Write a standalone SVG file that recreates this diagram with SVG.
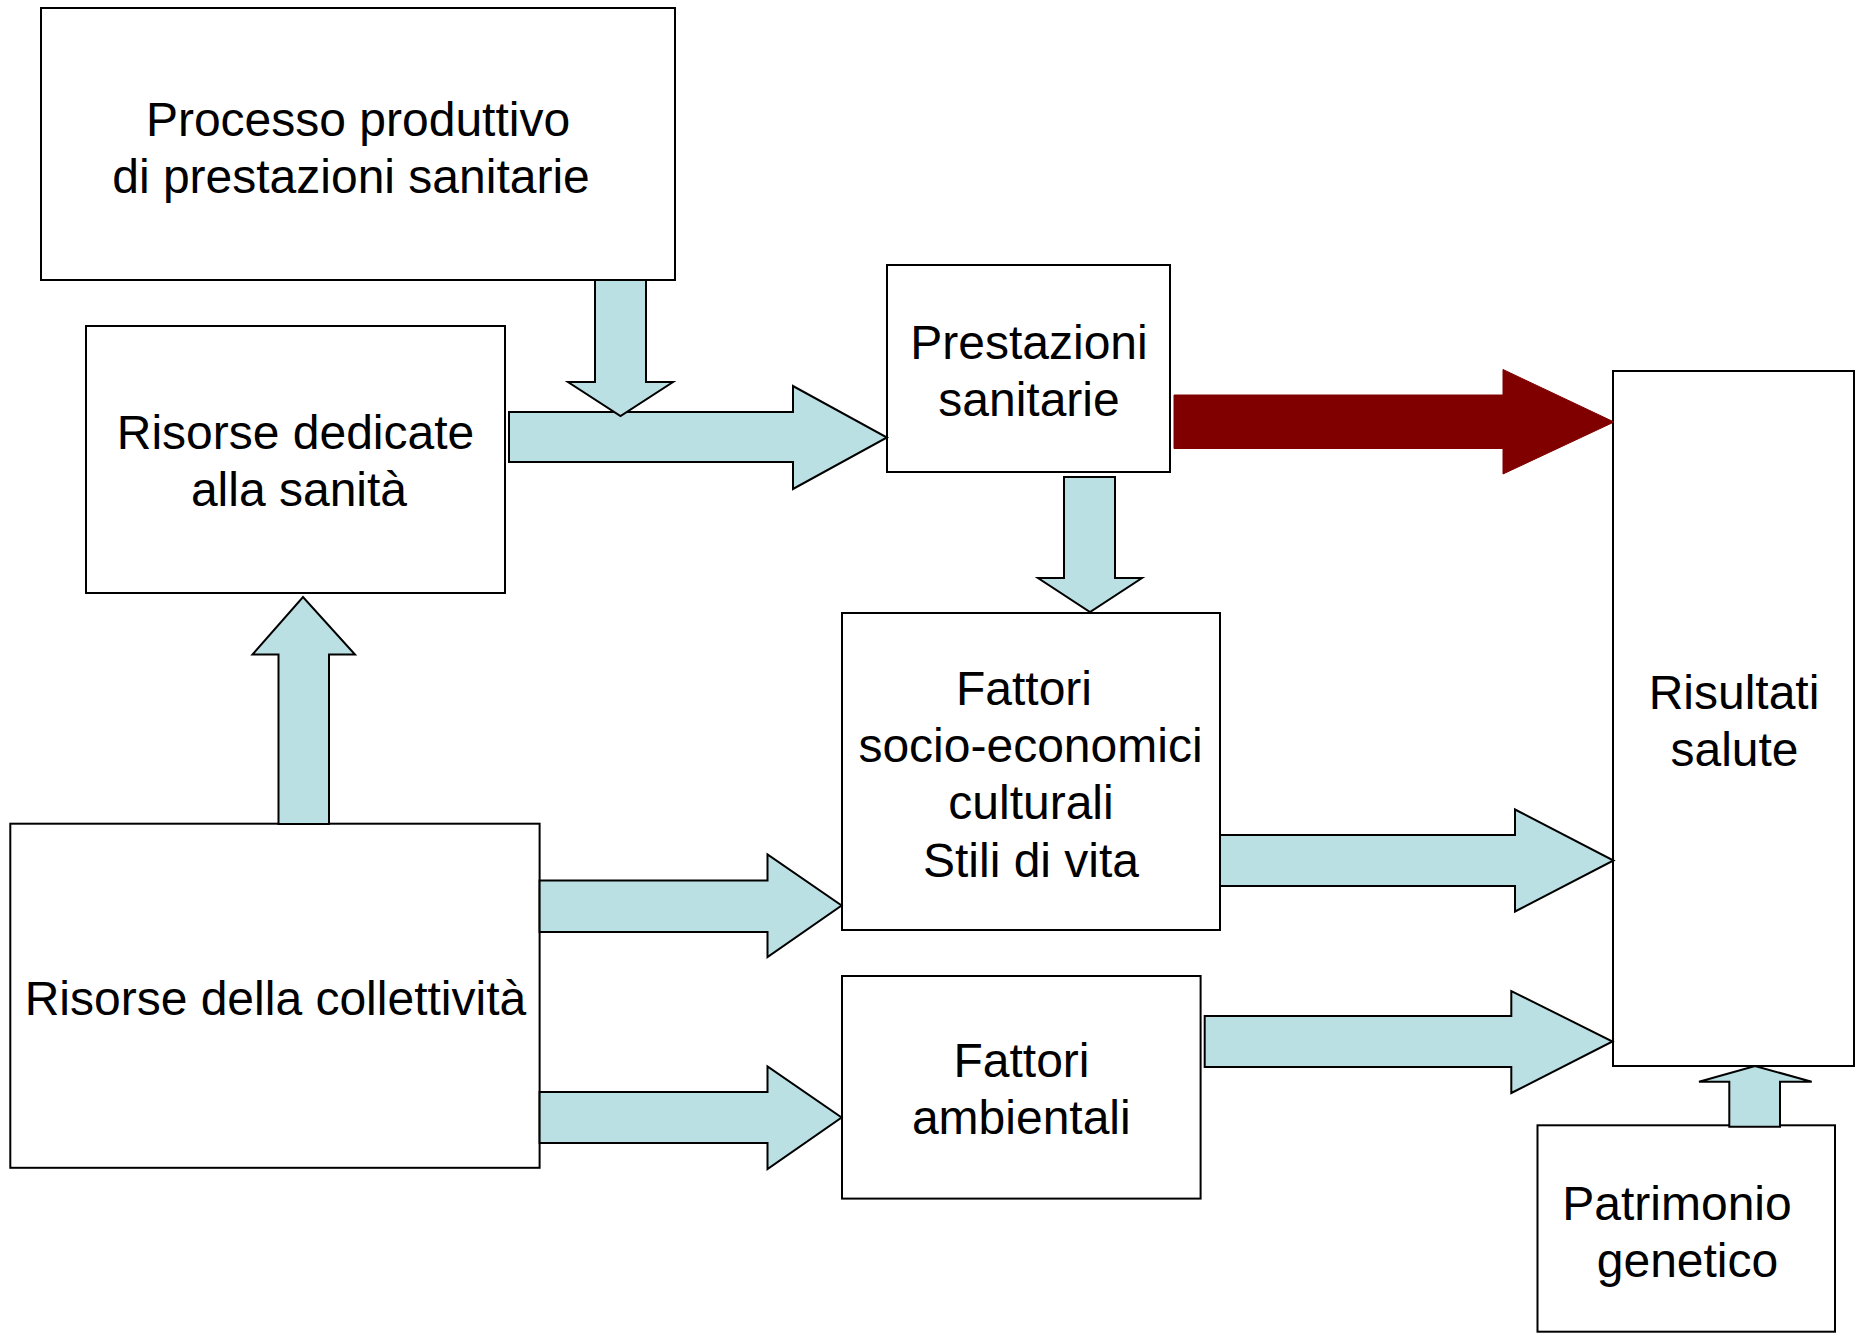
<svg xmlns="http://www.w3.org/2000/svg" width="1855" height="1333" viewBox="0 0 1855 1333">
<style>
.box{fill:#fff;stroke:#000;stroke-width:2}
.arr{fill:#BBE0E3;stroke:#000;stroke-width:2;stroke-linejoin:miter}
.red{fill:#800000;stroke:#800000;stroke-width:1}
text{font-family:"Liberation Sans",Arial,sans-serif;font-size:48px;fill:#000;text-anchor:middle}
</style>
<rect width="1855" height="1333" fill="#fff"/>
<g id="n1"><rect class="box" x="41" y="8" width="634" height="272"/>
<text x="358" y="136">Processo produttivo</text><text x="351" y="193">di prestazioni sanitarie</text></g>
<g id="n2"><rect class="box" x="86" y="326" width="419" height="267"/>
<text x="295.5" y="449">Risorse dedicate</text><text x="299" y="506">alla sanità</text></g>
<g id="n3"><rect class="box" x="887" y="265" width="283" height="207"/>
<text x="1029" y="359">Prestazioni</text><text x="1029" y="416">sanitarie</text></g>
<g id="n4"><rect class="box" x="1613" y="371" width="241" height="695"/>
<text x="1734" y="709">Risultati</text><text x="1734.5" y="766">salute</text></g>
<g id="n5"><rect class="box" x="842" y="613" width="378" height="317"/>
<text x="1024" y="704.5">Fattori</text><text x="1030.5" y="761.5">socio-economici</text><text x="1031" y="819">culturali</text><text x="1031" y="877">Stili di vita</text></g>
<g id="n6"><rect class="box" x="842" y="976" width="358.6" height="222.6"/>
<text x="1021.5" y="1077">Fattori</text><text x="1021.3" y="1134">ambientali</text></g>
<g id="n7"><rect class="box" x="10.3" y="823.7" width="529.3" height="344.1"/>
<text x="275.4" y="1015">Risorse della collettività</text></g>
<g id="n8"><rect class="box" x="1537.5" y="1125.3" width="297.5" height="206.4"/>
<text x="1677" y="1220">Patrimonio</text><text x="1687.5" y="1277">genetico</text></g>
<g id="connectors">
<polygon class="arr" points="509,412 793,412 793,386 887,437.5 793,489 793,462 509,462"/>
<polygon class="arr" points="595,280 646,280 646,382 673,382 620.5,416 568,382 595,382"/>
<polygon class="red" points="1174,395 1503,395 1503,369.5 1614,422 1503,474 1503,448.5 1174,448.5"/>
<polygon class="arr" points="1064,477 1115,477 1115,578 1142,578 1090,612 1038,578 1064,578"/>
<polygon class="arr" points="278.5,824 278.5,654.5 252.5,654.5 303,597 355,654.5 329,654.5 329,824"/>
<polygon class="arr" points="539.6,880.5 767.5,880.5 767.5,854.5 841.6,905.5 767.5,957 767.5,932 539.6,932"/>
<polygon class="arr" points="539.6,1092 767.5,1092 767.5,1066.5 841.6,1117.5 767.5,1169 767.5,1143 539.6,1143"/>
<polygon class="arr" points="1220,835 1515,835 1515,809.5 1613.5,860.5 1515,911.5 1515,886 1220,886"/>
<polygon class="arr" points="1204.7,1016 1511.3,1016 1511.3,991 1612.5,1041.5 1511.3,1093 1511.3,1067 1204.7,1067"/>
<polygon class="arr" points="1729.3,1126.7 1729.3,1081.7 1699,1081.7 1755,1066 1811.7,1081.7 1780,1081.7 1780,1126.7"/>
</g>
</svg>
